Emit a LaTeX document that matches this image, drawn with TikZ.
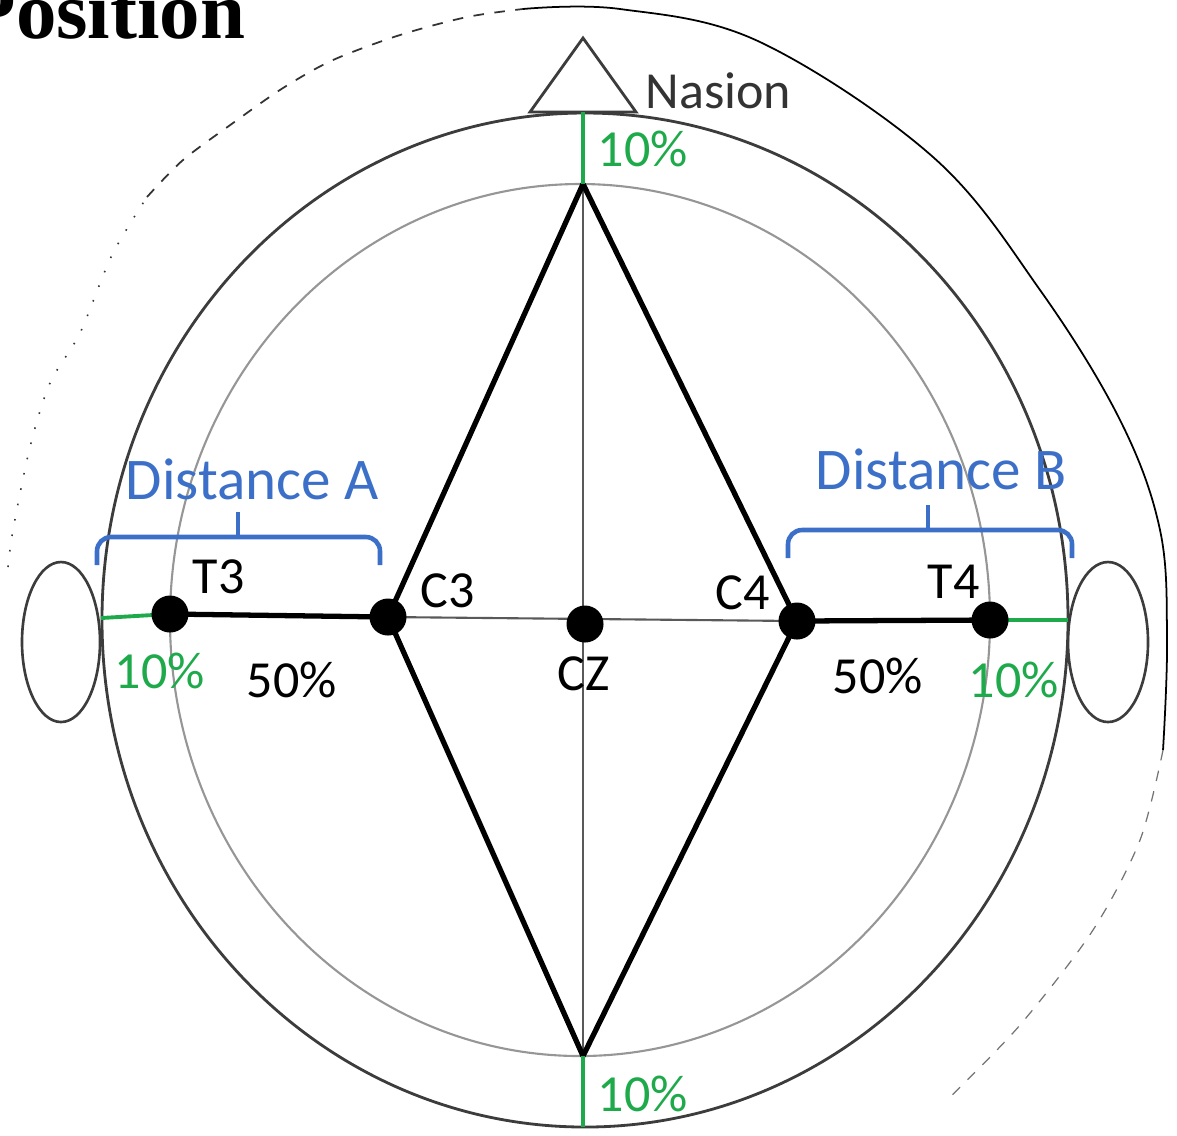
\documentclass[tikz,border=0pt]{standalone}
\usepackage{fontspec}
\setmainfont{Carlito}
\newfontfamily\titlefont{Liberation Serif}
\usetikzlibrary{positioning, calc}
\definecolor{tengreen}{RGB}{30,170,75}
\definecolor{distblue}{RGB}{60,112,200}
\definecolor{headgray}{RGB}{60,60,60}
\definecolor{innergray}{RGB}{150,150,150}

\begin{document}
\begin{tikzpicture}[x=0.01cm, y=-0.01cm,
  every node/.style={font=\fontsize{14.8}{16}\selectfont, inner sep=0pt},
  electrode/.style={circle, fill=black, minimum size=0.37cm},
  lbl/.style={anchor=base west},
  pct/.style={anchor=base west, tengreen},
  dist/.style={anchor=base west, distblue, font=\fontsize{16.8}{18}\selectfont},
  bracket/.style={distblue, line width=1.3pt, rounded corners=4pt},
  spoke/.style={black, line width=1.5pt},
  midline/.style={black!65, line width=0.6pt},
  tenline/.style={tengreen, line width=1.1pt}]
  \useasboundingbox (0,0) rectangle (1177,1135);
  \node[anchor=base east, font=\titlefont\bfseries\fontsize{23}{26}\selectfont] (title) at (246,38) {Position};
  \draw[black!80, line width=0.45pt, loosely dotted] plot[smooth] coordinates {(8,567) (13,530) (30,447) (50,383) (80,333) (112,255) (147,197)};
  \draw[black!80, line width=0.5pt, dashed] plot[smooth] coordinates {(147,197) (183,160) (233,123) (283,88) (333,60) (400,35) (467,17) (523,9)};
  \draw[black, line width=0.5pt] plot[smooth, tension=0.6] coordinates {(523,9) (620,9) (760,42) (933,157) (1040,290) (1120,420) (1160,530) (1167,640) (1163,750)};
  \draw[black!55, line width=0.35pt, dashed] plot[smooth] coordinates {(1163,750) (1140,840) (1093,930) (1020,1025) (950,1097)};
  \draw[headgray, line width=0.8pt] (585,620) ellipse [x radius=483, y radius=507];
  \draw[innergray, line width=0.6pt] (580,620) ellipse [x radius=410, y radius=436];
  \draw[headgray, line width=0.75pt] (61,642) ellipse [x radius=39, y radius=80];
  \draw[headgray, line width=0.75pt] (1108,642) ellipse [x radius=40, y radius=80];
  \coordinate (nasion) at (583,112);
  \coordinate (inion) at (583,1127);
  \coordinate (Fz) at (583,184);
  \coordinate (Pz) at (583,1056);
  \coordinate (lpa) at (101,618);
  \coordinate (rpa) at (1068,620);
  \coordinate (T3) at (170,614);
  \coordinate (C3) at (388,617);
  \coordinate (Cz) at (585,624);
  \coordinate (C4) at (797,621);
  \coordinate (T4) at (990,620);
  \draw[headgray, line width=0.8pt] (530,112) -- (583,38) -- (636,112) -- cycle;
  \draw[midline] (Fz) -- (Pz);
  \draw[midline] (C3) -- (C4);
  \draw[spoke, line join=round] (Fz) -- (C3) -- (Pz) -- (C4) -- cycle;
  \draw[spoke] (T3) -- (C3);
  \draw[spoke] (C4) -- (T4);
  \draw[tenline] (lpa) -- (T3);
  \draw[tenline] (T4) -- (rpa);
  \draw[tenline] (nasion) -- (Fz);
  \draw[tenline] (Pz) -- (inion);
  \foreach \e in {T3, C3, Cz, C4, T4}
    \node[electrode] (dot\e) at (\e) {};
  \draw[bracket] (97,565) -- (97,537) -- (380,537) -- (380,565);
  \draw[distblue, line width=1.3pt] (238,537) -- (238,512);
  \draw[bracket] (788,558) -- (788,530) -- (1072,530) -- (1072,558);
  \draw[distblue, line width=1.3pt] (928,530) -- (928,505);
  \node[lbl, black!80] (nasionlbl) at (645,108) {Nasion};
  \node[dist] (distA) at (125,499) {Distance A};
  \node[dist] (distB) at (815,489) {Distance B};
  \node[lbl] (t3lbl) at (192,593) {T3};
  \node[lbl] (c3lbl) at (420,607) {C3};
  \node[lbl] (c4lbl) at (715,609) {C4};
  \node[lbl] (t4lbl) at (927,598) {T4};
  \node[lbl] (czlbl) at (557,690) {CZ};
  \node[lbl] (fiftyA) at (246,697) {50\%};
  \node[lbl] (fiftyB) at (832,693) {50\%};
  \node[pct] (tenL) at (114,688) {10\%};
  \node[pct] (tenR) at (968,697) {10\%};
  \node[pct] (tenT) at (597,166) {10\%};
  \node[pct] (tenB) at (597,1111) {10\%};
\end{tikzpicture}
\end{document}
